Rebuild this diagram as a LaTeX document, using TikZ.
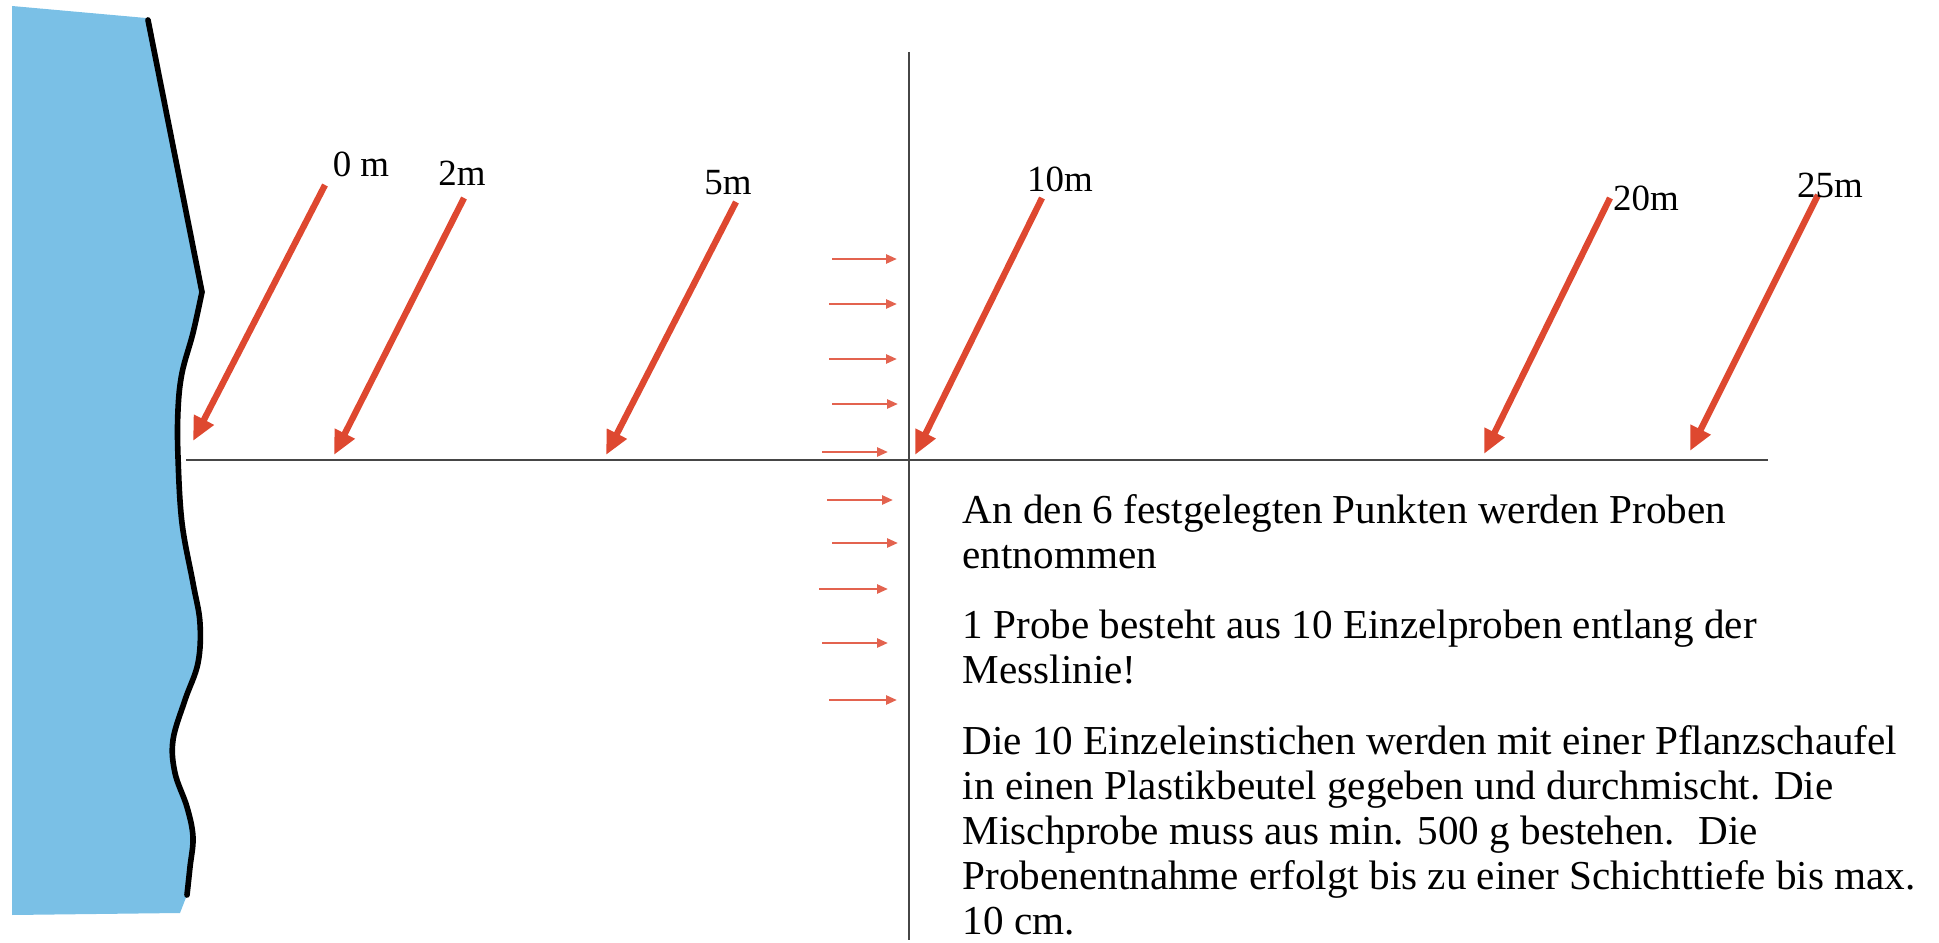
\documentclass[tikz,border=0pt]{standalone}
\usepackage{fontspec}
\setmainfont{Liberation Serif}
\usetikzlibrary{arrows.meta}
\definecolor{water}{RGB}{122,192,230}
\definecolor{arrowred}{RGB}{222,72,48}
\definecolor{axisgray}{RGB}{70,70,70}
\begin{document}
\begin{tikzpicture}[x=0.01cm,y=-0.01cm,
  mark arrow/.style={arrowred, line width=1.8pt, -{Triangle[length=0.24cm,width=0.21cm]}},
  flow arrow/.style={arrowred!85, line width=0.7pt, -{Triangle[length=0.11cm,width=0.09cm]}},
  dist label/.style={font=\fontsize{10.5}{12}\selectfont, inner sep=0pt},
  axis line/.style={axisgray, line width=0.6pt},
  coast/.style={black, line width=1.6pt, line cap=round},
  info/.style={font=\fontsize{11.7}{12.8}\selectfont, align=left, inner sep=0pt, anchor=north west}
]
\useasboundingbox (0,0) rectangle (1939,943);

% water
\fill[water] (12,6) -- (146,18) -- plot[smooth, tension=0.6] coordinates {(202,292) (193,333) (182,373) (178,410) (178,457) (182,523) (193,583) (200,623) (198,663) (185,700) (173,740) (175,773) (187,807) (193,837) (190,867) (187,895)} -- (180,913) -- (12,915) -- cycle;
% shoreline
\draw[coast] (148,20) -- plot[smooth, tension=0.6] coordinates {(202,292) (193,333) (182,373) (178,410) (178,457) (182,523) (193,583) (200,623) (198,663) (185,700) (173,740) (175,773) (187,807) (193,837) (190,867) (187,895)};

% axes
\coordinate (hl) at (186,460);
\coordinate (hr) at (1768,460);
\coordinate (vt) at (909,52);
\coordinate (vb) at (909,940);
\draw[axis line] (hl) -- (hr);
\draw[axis line] (vt) -- (vb);

% distance arrows
\coordinate (t0) at (325,185);  \coordinate (h0) at (193,441);
\coordinate (t2) at (464,198);  \coordinate (h2) at (334,455);
\coordinate (t5) at (736,202);  \coordinate (h5) at (606,455);
\coordinate (t10) at (1042,198); \coordinate (h10) at (915,455);
\coordinate (t20) at (1610,198); \coordinate (h20) at (1484,454);
\coordinate (t25) at (1818,195); \coordinate (h25) at (1690,451);
\foreach \k in {0,2,5,10,20,25} \draw[mark arrow] (t\k) -- (h\k);

\node[dist label] (l0) at (361,164) {0 m};
\node[dist label] (l2) at (462,173) {2m};
\node[dist label] (l5) at (728,183) {5m};
\node[dist label] (l10) at (1060,179) {10m};
\node[dist label] (l20) at (1646,198) {20m};
\node[dist label] (l25) at (1830,185) {25m};

% flow arrows along the measuring line
\foreach \i/\xa/\xb/\y in {1/832/897/259, 2/829/897/304, 3/829/897/359, 4/832/898/404, 5/822/888/452, 6/827/893/500, 7/832/898/543, 8/819/888/589, 9/822/888/643, 10/829/897/700} {
  \coordinate (fa\i) at (\xa,\y);
  \coordinate (fb\i) at (\xb,\y);
  \draw[flow arrow] (fa\i) -- (fb\i);
}

% description
\node[info] (txt) at (962,494) {An den 6 festgelegten Punkten werden Proben\\
entnommen\\[7pt]
1 Probe besteht aus 10 Einzelproben entlang der\\
Messlinie!\\[7.5pt]
Die 10 Einzeleinstichen werden mit einer Pflanzschaufel\\
in einen Plastikbeutel gegeben und durchmischt. Die\\
Mischprobe muss aus min. 500 g bestehen.~ Die\\
Probenentnahme erfolgt bis zu einer Schichttiefe bis max.\\
10 cm.};
\end{tikzpicture}
\end{document}
